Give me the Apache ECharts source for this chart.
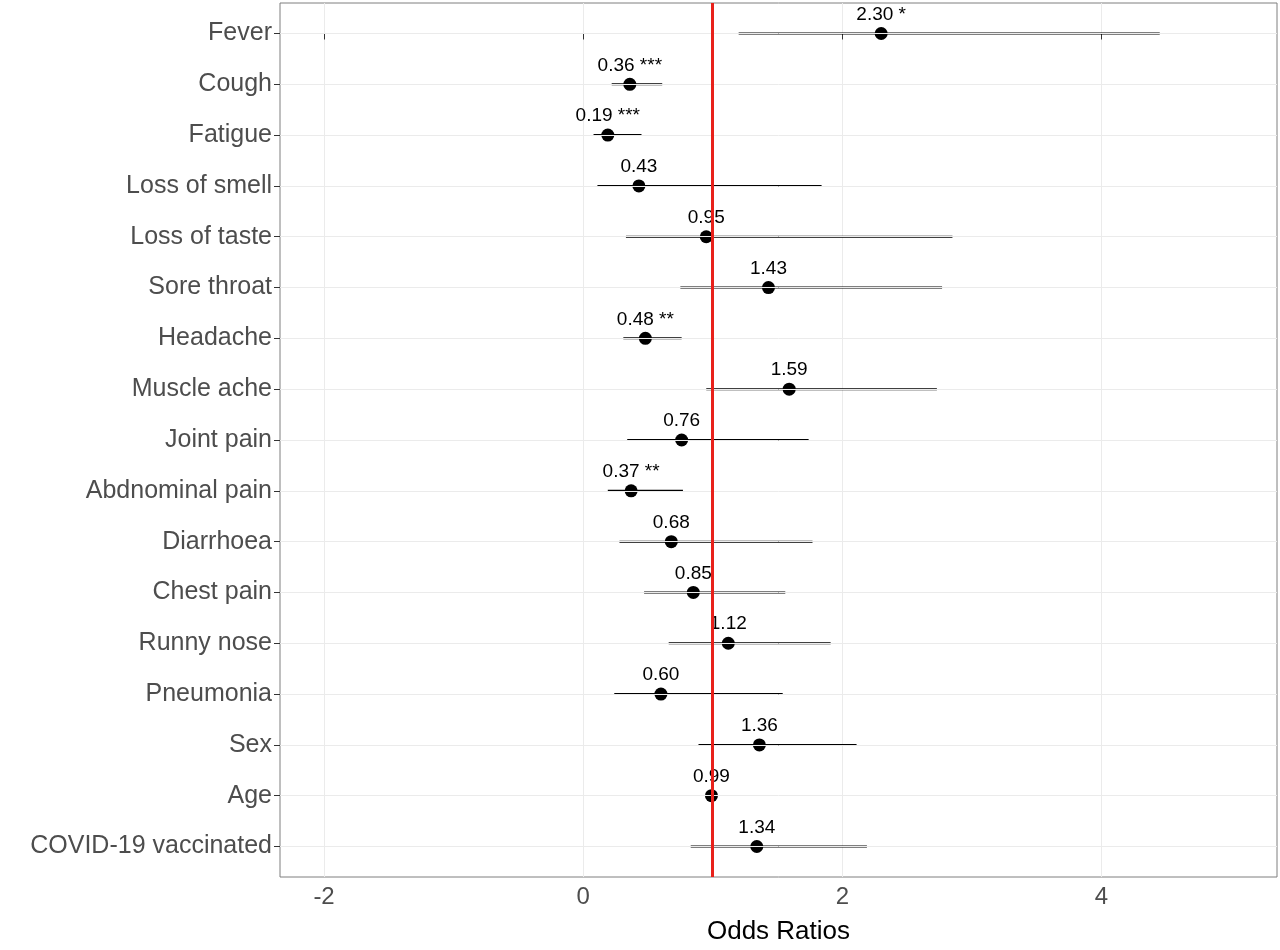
<!DOCTYPE html>
<html lang="en">
<head>
<meta charset="UTF-8">
<title>Odds Ratios</title>
<script src="https://cdn.jsdelivr.net/npm/echarts@6/dist/echarts.min.js"></script>
</head>
<body style="margin:0">
<div id="main" style="width:1280px;height:950px;"></div>
<script>
const categories = ['Fever','Cough','Fatigue','Loss of smell','Loss of taste','Sore throat','Headache','Muscle ache','Joint pain','Abdnominal pain','Diarrhoea','Chest pain','Runny nose','Pneumonia','Sex','Age','COVID-19 vaccinated'];
const oddsRatios = [2.30,0.36,0.19,0.43,0.95,1.43,0.48,1.59,0.76,0.37,0.68,0.85,1.12,0.60,1.36,0.99,1.34];
const ciLower = [1.20,0.22,0.08,0.11,0.33,0.75,0.31,0.95,0.34,0.19,0.28,0.47,0.66,0.24,0.89,0.98,0.83];
const ciUpper = [4.45,0.61,0.45,1.84,2.85,2.77,0.76,2.73,1.74,0.77,1.77,1.56,1.91,1.54,2.11,1.00,2.19];
const stars = ['*','***','***','','','','**','','','**','','','','','','',''];
const xTicks = [-2, 0, 2, 4];
const rowIdx = categories.map((c, i) => i);

const chart = echarts.init(document.getElementById('main'));
chart.setOption({
  animation: false,
  grid: { left: 280, right: 3, top: 3, bottom: 58, show: true, borderColor: '#7f7f7f', borderWidth: 1 },
  xAxis: {
    type: 'value', min: -2.34, max: 5.355, interval: 1,
    name: 'Odds Ratios', nameLocation: 'middle', nameGap: 42,
    nameTextStyle: { fontSize: 26, color: '#000', fontFamily: 'Liberation Sans' },
    axisLine: { show: false },
    axisTick: { show: true, length: 6, lineStyle: { color: '#333' }, customValues: xTicks },
    axisLabel: { fontSize: 24, color: '#4d4d4d', fontFamily: 'Liberation Sans', customValues: xTicks },
    splitLine: { lineStyle: { color: '#ebebeb', width: 1 } }
  },
  yAxis: {
    type: 'value', min: -0.6, max: 16.6, inverse: true,
    axisLine: { show: false, onZero: false },
    axisTick: { show: true, length: 6, lineStyle: { color: '#333' }, customValues: rowIdx },
    axisLabel: { fontSize: 25, color: '#4d4d4d', fontFamily: 'Liberation Sans', margin: 8,
      customValues: rowIdx, formatter: v => categories[Math.round(v)] },
    splitLine: { show: false }
  },
  series: [
    {
      type: 'custom',
      data: categories.map((c, i) => [i, ciLower[i], ciUpper[i]]),
      encode: { x: [1, 2], y: 0 },
      renderItem: function (params, api) {
        const a = api.coord([api.value(1), api.value(0)]);
        const b = api.coord([api.value(2), api.value(0)]);
        return { type: 'line', shape: { x1: a[0], y1: a[1], x2: b[0], y2: b[1] }, style: { stroke: '#000', lineWidth: 2 } };
      },
      markLine: {
        silent: true, symbol: 'none', label: { show: false },
        lineStyle: { color: '#ebebeb', width: 1, type: 'solid' },
        data: rowIdx.map(i => ({ yAxis: i }))
      },
      z: 2
    },
    {
      type: 'scatter',
      data: oddsRatios.map((v, i) => [v, i]),
      symbolSize: 13,
      itemStyle: { color: '#000', opacity: 1 },
      label: {
        show: true, position: 'top', distance: 3, fontSize: 19, color: '#000', fontFamily: 'Liberation Sans',
        formatter: p => oddsRatios[p.dataIndex].toFixed(2) + (stars[p.dataIndex] ? ' ' + stars[p.dataIndex] : '')
      },
      markLine: {
        silent: true, symbol: 'none', label: { show: false },
        lineStyle: { color: '#e8211b', width: 3, type: 'solid' },
        data: [{ xAxis: 1 }]
      },
      z: 3
    }
  ]
});
</script>
</body>
</html>
